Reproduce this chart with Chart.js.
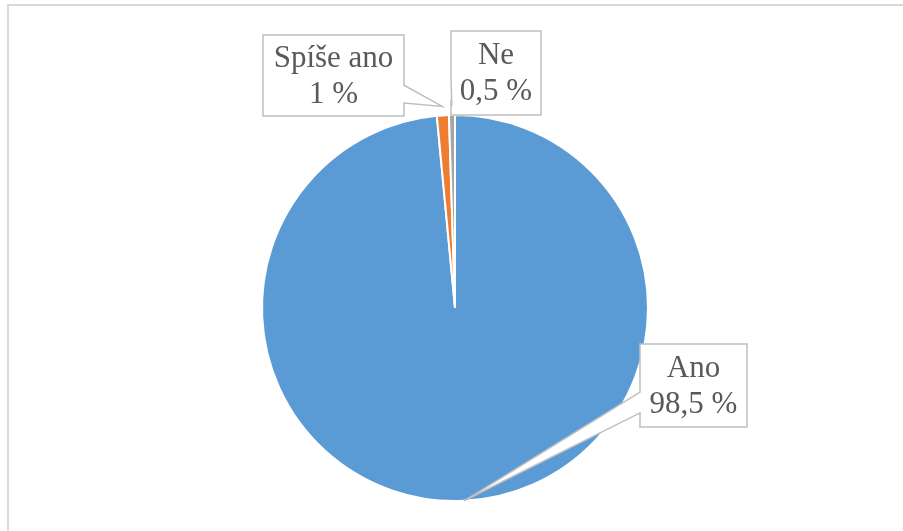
<!DOCTYPE html>
<html>
<head>
<meta charset="utf-8">
<script src="https://cdn.jsdelivr.net/npm/chart.js@4.4.1/dist/chart.umd.min.js"></script>
<style>
  html, body { margin: 0; padding: 0; background: #fff; }
  #wrap { position: relative; width: 903px; height: 531px; }
</style>
</head>
<body>
<div id="wrap"><canvas id="chartId"></canvas></div>
<script>
// data
const categories = ["Ano", "Spíše ano", "Ne"];
const values = [98.5, 1, 0.5];
const valueLabels = ["98,5 %", "1 %", "0,5 %"];
const sliceColors = ['#5B9BD5', '#ED7D31', '#A5A5A5'];

// callout boxes (x, y, w, h) and where the pointer leaves the box
const callouts = [
  { x: 640, y: 344, w: 107, h: 83, side: 'left', b1: 0.58, b2: 0.83, extra: 0 },
  { x: 263, y: 35, w: 141, h: 81, side: 'right', b1: 0.62, b2: 0.84, extra: 9 },
  { x: 451, y: 31, w: 90, h: 84, side: 'left', b1: 0.56, b2: 0.82, extra: 9 }
];

// outer frame like the office chart border
const framePlugin = {
  id: 'frame',
  beforeDraw(chart) {
    const ctx = chart.ctx;
    ctx.save();
    ctx.fillStyle = '#fff';
    ctx.fillRect(0, 0, chart.width, chart.height);
    ctx.strokeStyle = '#D9D9D9';
    ctx.lineWidth = 2;
    ctx.strokeRect(8, 5, chart.width + 10, chart.height + 10);
    ctx.restore();
  }
};

// callout labels with pointer
const calloutPlugin = {
  id: 'callouts',
  afterDatasetsDraw(chart) {
    const ctx = chart.ctx;
    const meta = chart.getDatasetMeta(0);
    meta.data.forEach((arc, i) => {
      const c = callouts[i];
      const mid = (arc.startAngle + arc.endAngle) / 2;
      const r = arc.outerRadius + c.extra;
      const tx = arc.x + Math.cos(mid) * r;
      const ty = arc.y + Math.sin(mid) * r;
      const ex = c.side === 'left' ? c.x : c.x + c.w;
      const y1 = c.y + c.h * c.b1, y2 = c.y + c.h * c.b2;

      ctx.save();
      ctx.beginPath();
      ctx.moveTo(c.x, c.y);
      ctx.lineTo(c.x + c.w, c.y);
      if (c.side === 'right') {
        ctx.lineTo(ex, y1);
        ctx.lineTo(tx, ty);
        ctx.lineTo(ex, y2);
      }
      ctx.lineTo(c.x + c.w, c.y + c.h);
      ctx.lineTo(c.x, c.y + c.h);
      if (c.side === 'left') {
        ctx.lineTo(ex, y2);
        ctx.lineTo(tx, ty);
        ctx.lineTo(ex, y1);
      }
      ctx.closePath();
      ctx.fillStyle = '#fff';
      ctx.fill();
      ctx.strokeStyle = '#BFBFBF';
      ctx.lineWidth = 1.5;
      ctx.stroke();

      ctx.fillStyle = '#595959';
      ctx.font = '31px "Liberation Serif", "Times New Roman", serif';
      ctx.textAlign = 'center';
      ctx.textBaseline = 'middle';
      const cx = c.x + c.w / 2, cy = c.y + c.h / 2;
      ctx.fillText(categories[i], cx, cy - 17);
      ctx.fillText(valueLabels[i], cx, cy + 19);
      ctx.restore();
    });
  }
};

var chrt = document.getElementById("chartId").getContext('2d');
var chartId = new Chart(chrt, {
  type: 'pie',
  data: {
    labels: categories,
    datasets: [{
      data: values,
      backgroundColor: sliceColors,
      borderColor: '#fff',
      borderWidth: 2
    }]
  },
  options: {
    responsive: true,
    maintainAspectRatio: false,
    animation: false,
    radius: 193,
    layout: { padding: { left: 7, right: 0, top: 85, bottom: 0 } },
    plugins: {
      legend: { display: false },
      tooltip: { enabled: false }
    }
  },
  plugins: [framePlugin, calloutPlugin]
});
</script>
</body>
</html>
